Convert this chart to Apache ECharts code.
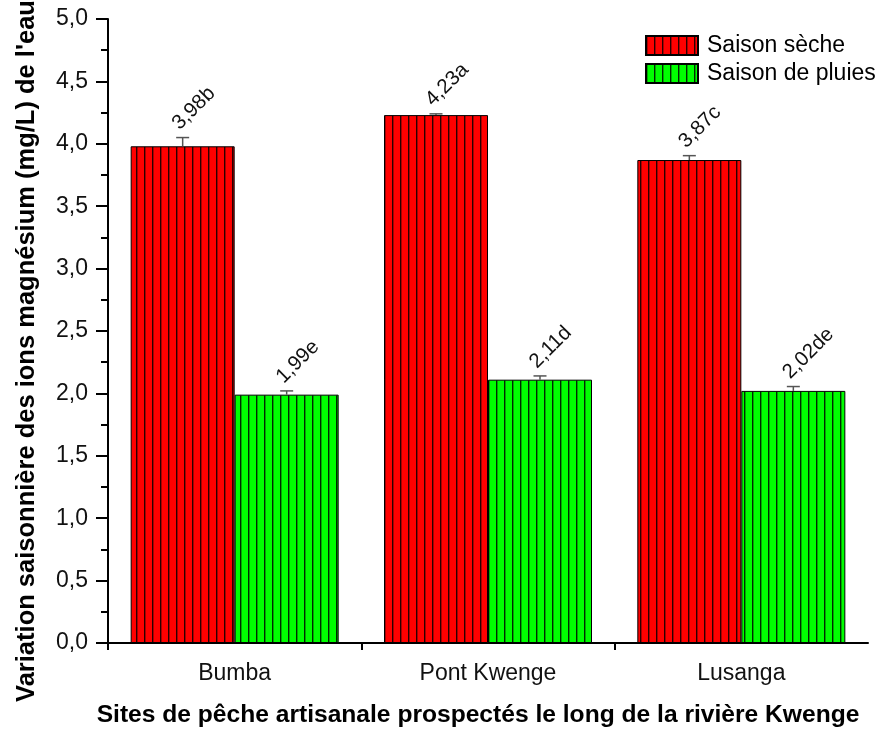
<!DOCTYPE html>
<html><head><meta charset="utf-8">
<script src="https://cdn.jsdelivr.net/npm/echarts@6/dist/echarts.min.js"></script>
<style>html,body{margin:0;padding:0;background:#fff}#c{width:878px;height:731px}</style>
</head><body><div id="c"></div>
<script>
const sites = ['Bumba', 'Pont Kwenge', 'Lusanga'];
const seriesNames = ['Saison sèche', 'Saison de pluies'];
const drySeason = [3.98, 4.23, 3.87];
const wetSeason = [1.99, 2.11, 2.02];
const dryErr = [0.07, 0.01, 0.035];
const wetErr = [0.03, 0.03, 0.035];
const dryLabels = ['3,98b', '4,23a', '3,87c'];
const wetLabels = ['1,99e', '2,11d', '2,02de'];
const yTicks = [0, 0.5, 1, 1.5, 2, 2.5, 3, 3.5, 4, 4.5, 5];

const FONT = '"Liberation Sans", Arial, sans-serif';
const BAR_W = 104;

function stripes(fill, line) {
  const c = document.createElement('canvas');
  c.width = 8; c.height = 8;
  const g = c.getContext('2d');
  g.fillStyle = fill; g.fillRect(0, 0, 8, 8);
  g.fillStyle = line; g.fillRect(0, 0, 1.4, 8);
  return { image: c, repeat: 'repeat' };
}

function errSeries(values, errs, labels, side) {
  return {
    type: 'custom',
    xAxisIndex: 0, yAxisIndex: 0,
    z: 5,
    silent: true,
    data: values.map((v, i) => [i, v, errs[i]]),
    encode: { x: 0, y: 1 },
    renderItem: function (params, api) {
      const ci = api.value(0), v = api.value(1), e = api.value(2);
      const base = api.coord([ci, v]);
      const top = api.coord([ci, v + e]);
      const x = base[0] + side * BAR_W / 2;
      return {
        type: 'group',
        children: [
          { type: 'line', shape: { x1: x, y1: base[1], x2: x, y2: top[1] }, style: { stroke: '#555', lineWidth: 1.5 } },
          { type: 'line', shape: { x1: x - 6.5, y1: top[1], x2: x + 6.5, y2: top[1] }, style: { stroke: '#555', lineWidth: 1.5 } },
          { type: 'text', x: x - 7, y: top[1] - 11, rotation: Math.PI / 4,
            style: { text: labels[params.dataIndex], font: '20.5px ' + FONT, fill: '#111', align: 'left', verticalAlign: 'middle' } }
        ]
      };
    }
  };
}

const chart = echarts.init(document.getElementById('c'), null, { renderer: 'canvas' });
chart.setOption({
  animation: false,
  backgroundColor: '#fff',
  grid: { left: 108, right: 10, top: 19, bottom: 88, containLabel: false, outerBoundsMode: 'none' },
  legend: {
    data: seriesNames,
    orient: 'vertical',
    left: 645, top: 34, padding: 0,
    icon: 'rect',
    itemWidth: 52, itemHeight: 19, itemGap: 5,
    textStyle: { fontFamily: FONT, fontSize: 23, color: '#000', padding: [0, 0, 0, 4] }
  },
  xAxis: [
    {
      type: 'category', data: sites, position: 'bottom',
      axisLine: { lineStyle: { color: '#000', width: 2 } },
      axisTick: { alignWithLabel: true, length: 13, lineStyle: { color: '#000', width: 2 } },
      axisLabel: { fontFamily: FONT, fontSize: 23, color: '#111', margin: 19 },
      name: 'Sites de pêche artisanale prospectés le long de la rivière Kwenge',
      nameLocation: 'middle', nameGap: 60,
      nameTextStyle: { fontFamily: FONT, fontSize: 24.6, fontWeight: 'bold', color: '#000', padding: [0, 20, 0, 0] }
    },
    {
      type: 'value', min: 0, max: 3, interval: 1, position: 'bottom',
      axisLine: { show: false },
      axisTick: { show: true, length: 7, lineStyle: { color: '#000', width: 2 }, customValues: [0, 1, 2] },
      axisLabel: { show: false },
      splitLine: { show: false }
    }
  ],
  yAxis: {
    type: 'value', min: 0, max: 5, interval: 0.5,
    axisLine: { show: true, lineStyle: { color: '#000', width: 2 } },
    axisTick: { show: true, length: 12, lineStyle: { color: '#000', width: 2 } },
    minorTick: { show: true, splitNumber: 2, length: 7, lineStyle: { color: '#000', width: 2 } },
    splitLine: { show: false },
    axisLabel: {
      fontFamily: FONT, fontSize: 23, color: '#111', margin: 20,
      customValues: yTicks,
      formatter: v => v.toFixed(1).replace('.', ',')
    },
    name: "Variation saisonnière des ions magnésium (mg/L) de l'eau",
    nameLocation: 'middle', nameGap: 68,
    nameTextStyle: { fontFamily: FONT, fontSize: 25.5, fontWeight: 'bold', color: '#000', padding: [0, 40, 0, 0] }
  },
  series: [
    {
      name: seriesNames[0], type: 'bar', data: drySeason, barWidth: BAR_W, barGap: '0%',
      itemStyle: { color: stripes('#ff0000', '#2a0000'), borderColor: '#000', borderWidth: 1 }
    },
    {
      name: seriesNames[1], type: 'bar', data: wetSeason, barWidth: BAR_W, barGap: '0%',
      itemStyle: { color: stripes('#00ff00', '#002a00'), borderColor: '#000', borderWidth: 1 }
    },
    errSeries(drySeason, dryErr, dryLabels, -1),
    errSeries(wetSeason, wetErr, wetLabels, 1)
  ]
});
</script></body></html>
